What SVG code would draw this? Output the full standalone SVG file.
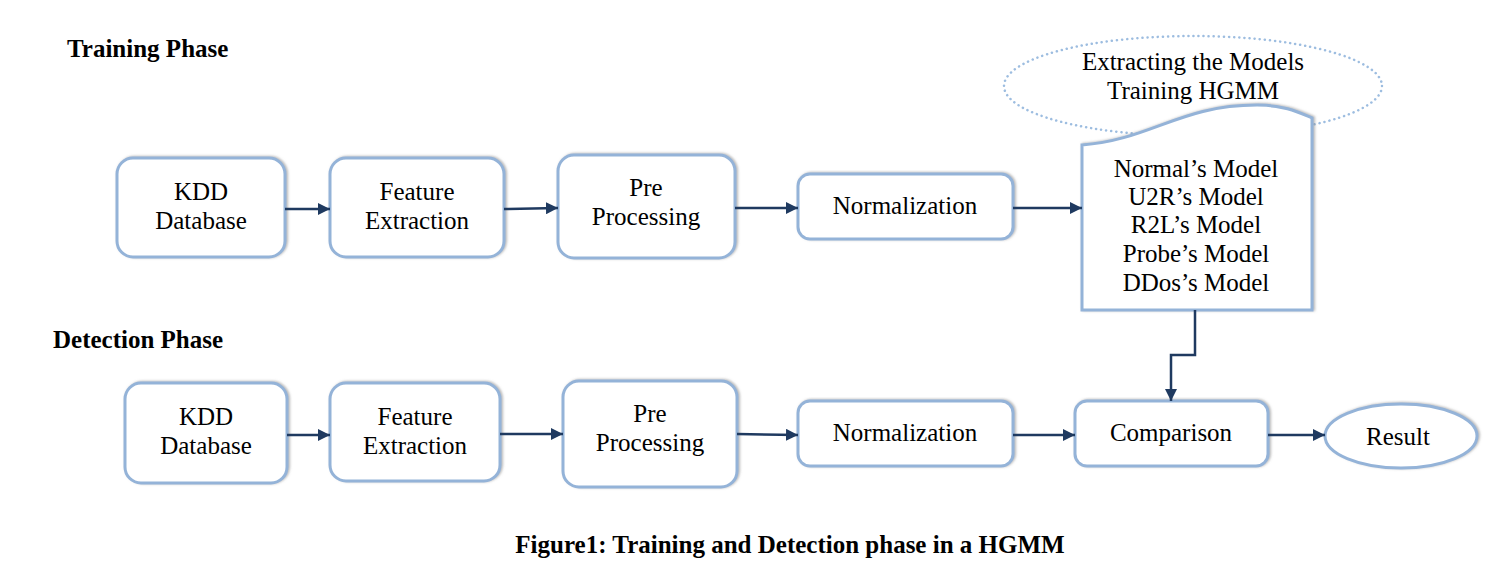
<svg xmlns="http://www.w3.org/2000/svg" width="1506" height="570" viewBox="0 0 1506 570">
<defs>
<marker id="ah" viewBox="0 0 10 10" refX="10" refY="5" markerWidth="12" markerHeight="12" markerUnits="userSpaceOnUse" orient="auto">
<path d="M0,0 L10,5 L0,10 z" fill="#1f3a60"/>
</marker>
<filter id="sh" x="-5%" y="-5%" width="115%" height="115%">
<feDropShadow dx="1.5" dy="-0.5" stdDeviation="0.8" flood-color="#888" flood-opacity="0.6"/>
</filter>
</defs>
<style>
.box{fill:#fff;stroke:#94b3d8;stroke-width:3;filter:url(#sh)}
.t{font-family:"Liberation Serif","Times New Roman",serif;font-size:25px;fill:#000;text-anchor:middle}
.h{font-family:"Liberation Serif","Times New Roman",serif;font-size:25px;font-weight:bold;fill:#000}
.c{fill:none;stroke:#1f3a60;stroke-width:2.5;marker-end:url(#ah)}
</style>
<rect width="1506" height="570" fill="#fff"/>
<text class="h" x="67" y="57">Training Phase</text>
<text class="h" x="53" y="348">Detection Phase</text>
<text class="h" x="790" y="553" text-anchor="middle">Figure1: Training and Detection phase in a HGMM</text>

<g id="extract-ellipse">
<ellipse cx="1193" cy="86" rx="189" ry="50" fill="none" stroke="#9dbde0" stroke-width="2.5" stroke-dasharray="0.1 5" stroke-linecap="round"/>
<text class="t" x="1193" y="70">Extracting the Models</text>
<text class="t" x="1193" y="99">Training HGMM</text>
</g>

<g id="t-kdd"><rect class="box" x="117" y="158" width="168" height="99" rx="16"/>
<text class="t" x="201" y="200">KDD</text><text class="t" x="201" y="229">Database</text></g>
<g id="t-feat"><rect class="box" x="330" y="158" width="174" height="99" rx="16"/>
<text class="t" x="417" y="200">Feature</text><text class="t" x="417" y="229">Extraction</text></g>
<g id="t-pre"><rect class="box" x="558" y="155" width="177" height="103" rx="16"/>
<text class="t" x="646" y="196">Pre</text><text class="t" x="646" y="225">Processing</text></g>
<g id="t-norm"><rect class="box" x="798" y="174" width="215" height="65" rx="12"/>
<text class="t" x="905" y="214">Normalization</text></g>
<g id="models">
<path class="box" d="M1082,145 C1150,140 1180,105 1257,105 C1285,105 1300,113 1312,118 L1312,310 L1082,310 Z"/>
<text class="t" x="1196" y="177">Normal’s Model</text>
<text class="t" x="1196" y="205">U2R’s Model</text>
<text class="t" x="1196" y="233">R2L’s Model</text>
<text class="t" x="1196" y="262">Probe’s Model</text>
<text class="t" x="1196" y="291">DDos’s Model</text>
</g>

<g id="d-kdd"><rect class="box" x="125" y="383" width="162" height="100" rx="16"/>
<text class="t" x="206" y="425">KDD</text><text class="t" x="206" y="454">Database</text></g>
<g id="d-feat"><rect class="box" x="330" y="383" width="170" height="98" rx="16"/>
<text class="t" x="415" y="425">Feature</text><text class="t" x="415" y="454">Extraction</text></g>
<g id="d-pre"><rect class="box" x="563" y="381" width="174" height="106" rx="16"/>
<text class="t" x="650" y="422">Pre</text><text class="t" x="650" y="451">Processing</text></g>
<g id="d-norm"><rect class="box" x="798" y="401" width="215" height="65" rx="12"/>
<text class="t" x="905" y="441">Normalization</text></g>
<g id="d-comp"><rect class="box" x="1075" y="401" width="193" height="65" rx="12"/>
<text class="t" x="1171" y="441">Comparison</text></g>
<g id="d-result"><ellipse class="box" cx="1401" cy="436" rx="76" ry="32"/>
<text class="t" x="1398" y="445">Result</text></g>

<g id="connectors">
<path class="c" d="M285,209 L330,209"/>
<path class="c" d="M504,209 L558,208"/>
<path class="c" d="M735,208 L798,208"/>
<path class="c" d="M1013,208 L1082,208"/>
<path class="c" d="M1195,310 L1195,355 L1171,355 L1171,401"/>
<path class="c" d="M287,435 L330,435"/>
<path class="c" d="M500,434 L563,434"/>
<path class="c" d="M737,434 L798,435"/>
<path class="c" d="M1013,435 L1075,435"/>
<path class="c" d="M1268,435 L1325,435"/>
</g>
</svg>
